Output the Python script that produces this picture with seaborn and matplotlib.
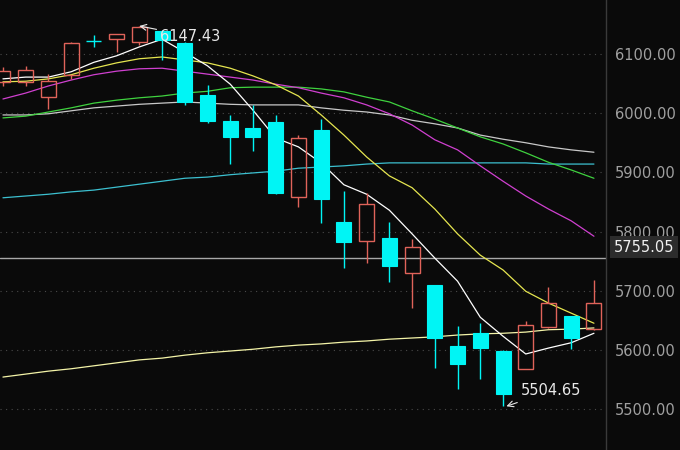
import numpy as np
import pandas as pd
import matplotlib
matplotlib.use("Agg")
import matplotlib.pyplot as plt
import matplotlib.transforms as mtransforms
import seaborn as sns

# candle data (open, high, low, close), oldest first
opens = [6053, 6053, 6027, 6065, 6122, 6125, 6120, 6139, 6119, 6031, 5987, 5975, 5985, 5858,
         5972, 5816, 5784, 5789, 5730, 5710, 5607, 5628, 5598, 5568, 5639, 5657, 5635]
highs = [6078, 6080, 6066, 6121, 6132, 6134, 6147.43, 6140, 6120, 6048, 5997, 6014, 5997, 5963,
         5990, 5868, 5865, 5816, 5787, 5710, 5640, 5645, 5600, 5649, 5706, 5657, 5718]
lows = [6046, 6046, 6007, 6058, 6112, 6103, 6115, 6090, 6014, 5983, 5914, 5936, 5863, 5841,
        5814, 5738, 5747, 5715, 5671, 5569, 5534, 5551, 5504.65, 5568, 5637, 5601, 5634]
closes = [6071, 6073, 6054, 6119, 6122, 6134, 6145, 6124, 6019, 5987, 5960, 5960, 5865, 5958,
          5855, 5782, 5846, 5742, 5774, 5620, 5576, 5603, 5525, 5642, 5679, 5620, 5679]

# moving averages
ma5 = [6058, 6061, 6061, 6070, 6086, 6097, 6112, 6125, 6103, 6080, 6049, 6005, 5958, 5943,
       5916, 5879, 5863, 5836, 5796, 5755, 5716, 5655, 5623, 5593, 5603, 5612, 5628]
ma10 = [6053, 6054, 6058, 6065, 6076, 6085, 6092, 6095, 6090, 6085, 6076, 6063, 6048, 6029,
        5997, 5963, 5926, 5894, 5874, 5838, 5796, 5760, 5735, 5699, 5679, 5662, 5645]
ma20 = [6024, 6034, 6046, 6056, 6065, 6071, 6075, 6076, 6071, 6066, 6061, 6056, 6049, 6043,
        6034, 6026, 6014, 5999, 5980, 5955, 5938, 5911, 5885, 5860, 5838, 5818, 5792]
ma30 = [5992, 5995, 6002, 6009, 6017, 6022, 6026, 6029, 6034, 6037, 6043, 6044, 6044, 6044,
        6041, 6036, 6027, 6019, 6004, 5990, 5975, 5960, 5948, 5933, 5917, 5904, 5890]
ma60 = [5997, 5997, 5999, 6004, 6009, 6012, 6015, 6017, 6019, 6017, 6015, 6014, 6014, 6014,
        6009, 6005, 6002, 5997, 5988, 5982, 5975, 5963, 5956, 5950, 5943, 5938, 5934]
ma120 = [5857, 5860, 5863, 5867, 5870, 5875, 5880, 5885, 5890, 5892, 5896, 5899, 5902, 5907,
         5909, 5911, 5914, 5916, 5916, 5916, 5916, 5916, 5916, 5916, 5914, 5914, 5914]
ma250 = [5554, 5559, 5564, 5568, 5573, 5578, 5583, 5586, 5591, 5595, 5598, 5601, 5605, 5608,
         5610, 5613, 5615, 5618, 5620, 5622, 5625, 5627, 5628, 5630, 5634, 5635, 5637]

ref_price = 5755.05
yticks = [5500, 5600, 5700, 5800, 5900, 6000, 6100]

BG = "#0a0a0a"
UP = "#e0635a"
DOWN = "#00f5f5"

sns.set_style("dark", {"axes.facecolor": BG, "figure.facecolor": BG})
plt.rcParams['font.family'] = ['DejaVu Sans']

fig = plt.figure(figsize=(6.8, 4.5), dpi=100)
ax = fig.add_axes([0, 0, 606 / 680, 1])
ax.set_facecolor(BG)

idx = np.arange(len(closes))
df = pd.DataFrame({"i": idx, "MA5": ma5, "MA10": ma10, "MA20": ma20, "MA30": ma30,
                   "MA60": ma60, "MA120": ma120, "MA250": ma250})
ma_colors = {"MA250": "#f4f4a8", "MA120": "#3cc0d0", "MA60": "#c8c8c8", "MA30": "#3fd23f",
             "MA20": "#d040d0", "MA10": "#e6e650", "MA5": "#ffffff"}
for name, col in ma_colors.items():
    sns.lineplot(data=df, x="i", y=name, color=col, linewidth=0.9, ax=ax, zorder=3)

# candles
w = 0.66
for i in idx:
    o, h, l, c = opens[i], highs[i], lows[i], closes[i]
    top, bot = max(o, c), min(o, c)
    col = UP if c > o else DOWN
    ax.vlines(i, top, h, color=col, linewidth=1, zorder=4)
    ax.vlines(i, l, bot, color=col, linewidth=1, zorder=4)
    if top - bot < 1:
        ax.hlines(c, i - w / 2, i + w / 2, color=col, linewidth=1, zorder=4)
    elif c > o:
        ax.bar(i, top - bot, bottom=bot, width=w, facecolor="none", edgecolor=col,
               linewidth=1, zorder=4)
    else:
        ax.bar(i, top - bot, bottom=bot, width=w, facecolor=col, edgecolor=col,
               linewidth=0.8, zorder=4)

# reference price line
ax.axhline(ref_price, color="#a8a8a8", linewidth=1, zorder=2)

ax.set_xlim(-0.13, 26.53)
ax.set_ylim(5430.7, 6191.3)
ax.set_yticks(yticks)
ax.set_yticklabels([f"{v:.2f}" for v in yticks])
ax.yaxis.tick_right()
ax.tick_params(axis="y", length=0, pad=6.5, labelsize=10.5, labelcolor="#a0a0a0")
ax.set_xticks([])
ax.set_xlabel("")
ax.set_ylabel("")
ax.grid(False)
for v in yticks:
    ax.axhline(v, color="#4a4a4a", linewidth=0.8, linestyle=(0, (1, 4)), zorder=1)
for s in ["top", "left", "bottom"]:
    ax.spines[s].set_visible(False)
ax.spines["right"].set_color("#3a3a3a")
ax.spines["right"].set_linewidth(1)

# high / low annotations
imax = int(np.argmax(highs))
imin = int(np.argmin(lows))
ax.annotate(f"{highs[imax]:.2f}", xy=(imax, highs[imax]), xytext=(imax + 0.9, highs[imax] - 17),
            color="#e8e8e8", fontsize=10.5, va="center", ha="left", zorder=6,
            arrowprops=dict(arrowstyle="->", color="#e8e8e8", lw=0.8, shrinkA=0, shrinkB=0))
ax.annotate(f"{lows[imin]:.2f}", xy=(imin + 0.15, lows[imin]), xytext=(imin + 0.8, lows[imin] + 26),
            color="#e8e8e8", fontsize=10.5, va="center", ha="left", zorder=6,
            arrowprops=dict(arrowstyle="->", color="#e8e8e8", lw=0.8, shrinkA=2, shrinkB=0))

# last reference price tag on the axis
trans = mtransforms.blended_transform_factory(ax.transAxes, ax.transData)
ax.text(1.013, ref_price + 6, f"{ref_price:.2f}", transform=trans, color="#f0f0f0",
        fontsize=10.5, va="bottom", ha="left", clip_on=False,
        bbox=dict(boxstyle="square,pad=0.25", facecolor="#2c2c2c", edgecolor="none"))

fig.savefig("out.png", dpi=100, facecolor=BG)
